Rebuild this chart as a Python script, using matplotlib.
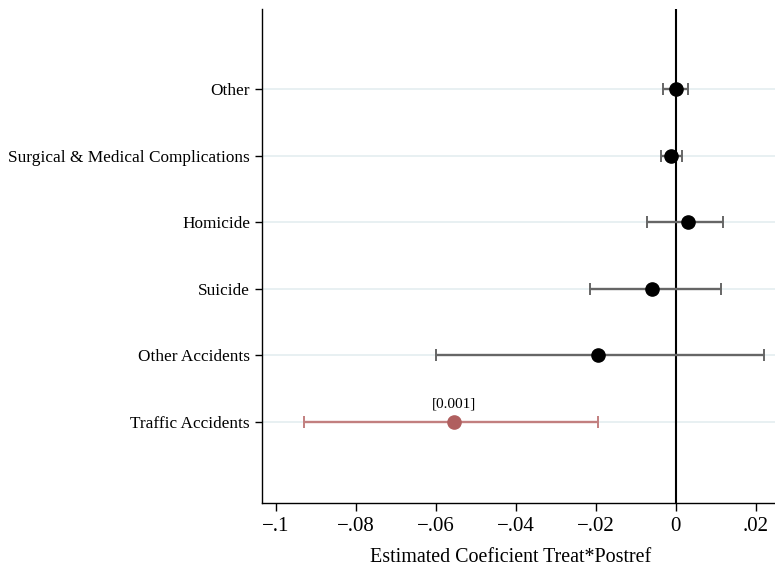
import matplotlib
matplotlib.use("Agg")
import matplotlib.pyplot as plt
import numpy as np

plt.rcParams['font.family'] = ['Liberation Serif', 'DejaVu Serif']

categories = ["Traffic Accidents", "Other Accidents", "Suicide", "Homicide",
              "Surgical & Medical Complications", "Other"]
coef = [-0.0554, -0.0194, -0.0059, 0.0030, -0.0013, 0.0000]
ci_low = [-0.0929, -0.0598, -0.0214, -0.0072, -0.0038, -0.0031]
ci_high = [-0.0194, 0.0221, 0.0113, 0.0118, 0.0014, 0.0029]
highlight = [True, False, False, False, False, False]
pvalue_labels = ["[0.001]", "", "", "", "", ""]

xticks = [-0.1, -0.08, -0.06, -0.04, -0.02, 0, 0.02]
xtick_labels = ["\u2212.1", "\u2212.08", "\u2212.06", "\u2212.04", "\u2212.02", "0", ".02"]

fig = plt.figure(figsize=(7.75, 5.67), dpi=100)
ax = fig.add_axes([0.3387, 0.1134, 0.6613, 0.8707])

ypos = np.arange(1, len(categories) + 1)

for y in ypos:
    ax.axhline(y, color="#e6eff1", lw=1.3, zorder=0)

ax.axvline(0, color="black", lw=1.5, zorder=2)

for y, c, lo, hi, hl, lab in zip(ypos, coef, ci_low, ci_high, highlight, pvalue_labels):
    lcol = "#c27f7f" if hl else "#666666"
    mcol = "#b05f5f" if hl else "black"
    ax.errorbar(c, y, xerr=[[c - lo], [hi - c]], fmt="none", ecolor=lcol,
                elinewidth=1.7, capsize=4.5, capthick=1.4, zorder=3)
    ax.plot(c, y, "o", color=mcol, markersize=9.5, zorder=4)
    if lab:
        ax.annotate(lab, (c, y), xytext=(0, 8), textcoords="offset points",
                    ha="center", va="bottom", fontsize=11)

ax.set_xlim(-0.10325, 0.02475)
ax.set_ylim(-0.21, 7.2)
ax.set_yticks(ypos)
ax.set_yticklabels(categories, fontsize=12.4)
ax.set_xticks(xticks)
ax.set_xticklabels(xtick_labels, fontsize=15)
ax.set_xlabel("Estimated Coeficient Treat*Postref", fontsize=14.4)
ax.xaxis.set_label_coords(0.485, -0.092)

ax.spines["top"].set_visible(False)
ax.spines["right"].set_visible(False)
ax.spines["left"].set_linewidth(1.0)
ax.spines["bottom"].set_linewidth(1.0)
ax.tick_params(axis="y", length=5, width=1.0, pad=4)
ax.tick_params(axis="x", length=6, width=1.0, pad=4)

fig.savefig("out.png", dpi=100)
